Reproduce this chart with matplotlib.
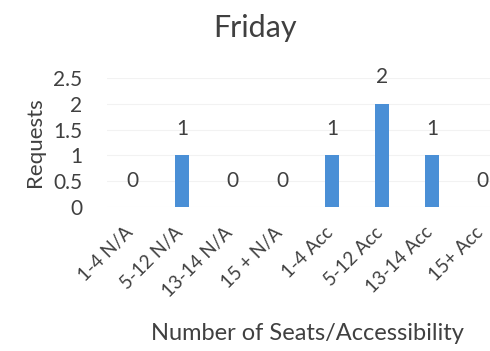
import matplotlib.pyplot as plt
import matplotlib.transforms as mtransforms

categories = ['1-4 N/A', '5-12 N/A', '13-14 N/A', '15 + N/A',
              '1-4 Acc', '5-12 Acc', '13-14 Acc', '15+ Acc']
requests = [0, 1, 0, 0, 1, 2, 1, 0]
yticks = [0, 0.5, 1, 1.5, 2, 2.5]
ytick_labels = ['0', '0.5', '1', '1.5', '2', '2.5']

plt.rcParams['font.family'] = ['Lato', 'DejaVu Sans']
text_col = '#404040'

fig = plt.figure(figsize=(4.9, 3.51), dpi=100)
ax = fig.add_axes([107 / 490, 144 / 351, 400 / 490, 129 / 351])

x = range(len(categories))
ax.bar(x, requests, width=0.28, color='#4a8fd6', zorder=3)
for xi, v in zip(x, requests):
    ax.annotate(str(v), (xi, v), xytext=(0, 19), textcoords='offset points',
                ha='center', va='center', fontsize=15, color=text_col)

ax.set_xlim(-0.5, len(categories) - 0.5)
ax.set_ylim(0, 2.5)
ax.set_yticks(yticks)
ax.set_yticklabels(ytick_labels, fontsize=15, color=text_col)
ax.set_xticks(list(x))
ax.set_xticklabels(categories, rotation=45, ha='right', rotation_mode='anchor',
                   fontsize=13.5, color=text_col)
ax.tick_params(length=0)
ax.tick_params(axis='x', pad=12)
ax.tick_params(axis='y', pad=18)
ax.grid(axis='y', color='#f2f2f2', lw=0.8, zorder=0)
for s in ax.spines.values():
    s.set_visible(False)

# nudge the slanted category labels a little to the left
shift = mtransforms.ScaledTranslation(-8 / 100, 0, fig.dpi_scale_trans)
for lbl in ax.get_xticklabels():
    lbl.set_transform(lbl.get_transform() + shift)

ax.set_ylabel('Requests', fontsize=16, color=text_col, labelpad=6)
fig.text(255 / 490, 1 - 28 / 351, 'Friday', ha='center', va='center',
         fontsize=22, color=text_col)
fig.text(307 / 490, 1 - 333 / 351, 'Number of Seats/Accessibility', ha='center',
         va='center', fontsize=17, color=text_col)

fig.savefig('out.png', dpi=100)
